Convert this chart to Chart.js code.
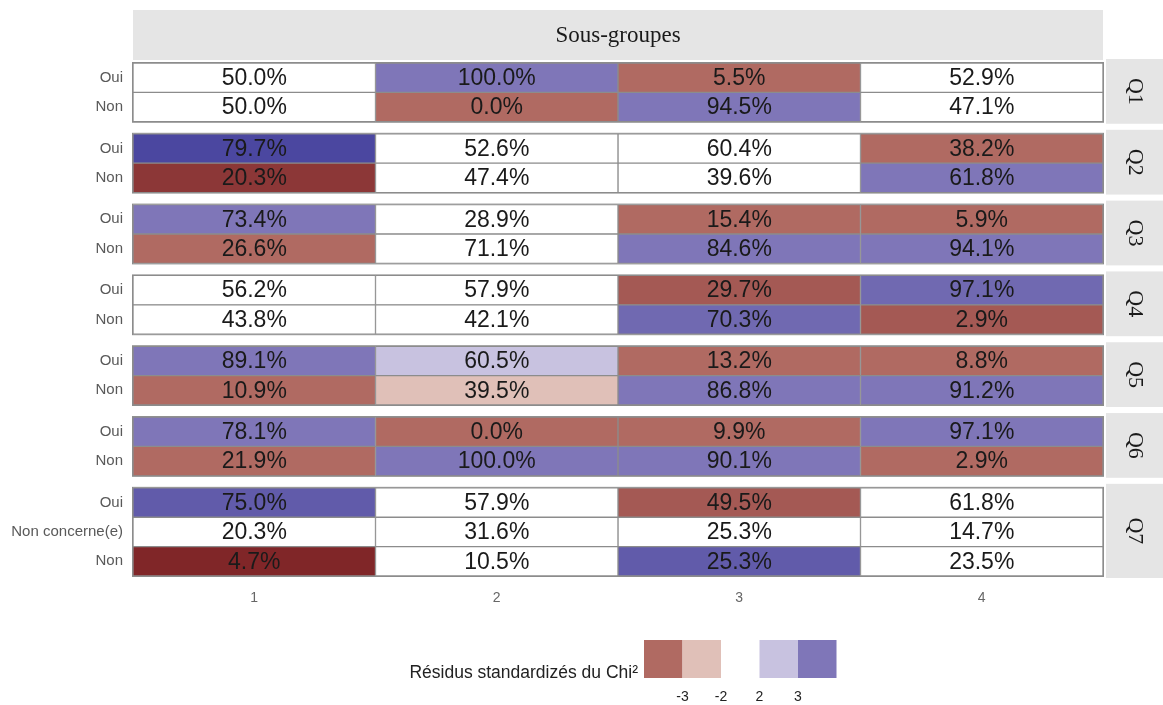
<!DOCTYPE html>
<html>
<head>
<meta charset="utf-8">
<script src="https://cdn.jsdelivr.net/npm/chart.js@4.4.1/dist/chart.umd.min.js"></script>
<style>
  html, body { margin: 0; padding: 0; background: #fff; }
  #wrap { width: 1163px; height: 705px; }
</style>
</head>
<body>
<div id="wrap"><canvas id="tableau" width="1163" height="705"></canvas></div>
<script>
// sous-groupes (colonnes)
const sousGroupes = ['1', '2', '3', '4'];

// questions et modalités (lignes)
const questions = ['Q1', 'Q2', 'Q3', 'Q4', 'Q5', 'Q6', 'Q7'];
const modalites = [
  ['Oui', 'Non'],
  ['Oui', 'Non'],
  ['Oui', 'Non'],
  ['Oui', 'Non'],
  ['Oui', 'Non'],
  ['Oui', 'Non'],
  ['Oui', 'Non concerne(e)', 'Non']
];

// pourcentages par sous-groupe, dans l'ordre Q1 Oui, Q1 Non, ... Q7 Non
const pct1 = [50.0, 50.0, 79.7, 20.3, 73.4, 26.6, 56.2, 43.8, 89.1, 10.9, 78.1, 21.9, 75.0, 20.3, 4.7];
const pct2 = [100.0, 0.0, 52.6, 47.4, 28.9, 71.1, 57.9, 42.1, 60.5, 39.5, 0.0, 100.0, 57.9, 31.6, 10.5];
const pct3 = [5.5, 94.5, 60.4, 39.6, 15.4, 84.6, 29.7, 70.3, 13.2, 86.8, 9.9, 90.1, 49.5, 25.3, 25.3];
const pct4 = [52.9, 47.1, 38.2, 61.8, 5.9, 94.1, 97.1, 2.9, 8.8, 91.2, 97.1, 2.9, 61.8, 14.7, 23.5];

// résidus standardisés du Chi² (estimés d'après les couleurs)
const res1 = [0, 0, 7, -6.5, 3.5, -3.5, 0, 0, 3.5, -3.5, 3.5, -3.5, 5.5, 0, -7.5];
const res2 = [3.5, -3.5, 0, 0, 0, 0, 0, 0, 2.5, -2.5, -3.5, 3.5, 0, 0, 0];
const res3 = [-3.5, 3.5, 0, 0, -3.5, 3.5, -4.5, 4.5, -3.5, 3.5, -3.5, 3.5, -4.5, 0, 5.5];
const res4 = [0, 0, -3.5, 3.5, -3.5, 3.5, 4.5, -4.5, -3.5, 3.5, 3.5, -3.5, 0, 0, 0];

// légende
const legendeTitre = 'Résidus standardizés du Chi²';
const legendeSeuils = ['-3', '-2', '2', '3'];

function couleurResidu(r) {
  const a = Math.abs(r);
  if (a < 2) return '#ffffff';
  if (a < 3) return r > 0 ? '#c8c2e0' : '#e0c0b8';
  const base = r > 0 ? [127, 118, 184] : [176, 106, 98];
  const fonce = r > 0 ? [75, 71, 160] : [128, 38, 40];
  const t = Math.min(1, Math.max(0, (a - 3.5) / (r > 0 ? 3.5 : 4)));
  const c = base.map((v, i) => Math.round(v + (fonce[i] - v) * t));
  return 'rgb(' + c.join(',') + ')';
}

// positions des lignes avec un petit écart entre les questions
const ECART = 0.41;
const lignes = [];
const panneaux = [];
let k = 0;
questions.forEach((q, qi) => {
  const debut = k + qi * ECART;
  modalites[qi].forEach(m => {
    lignes.push({ y: k + qi * ECART, label: m });
    k++;
  });
  panneaux.push({ q: q, debut: debut - 0.5, fin: lignes[lignes.length - 1].y + 0.5 });
});

const valeurs = [pct1, pct2, pct3, pct4];
const residus = [res1, res2, res3, res4];

const SANS = '"Liberation Sans", Arial, sans-serif';
const SERIF = '"Liberation Serif", "Times New Roman", serif';

// bandeaux gris (titre en haut, questions à droite)
const bandeaux = {
  id: 'bandeaux',
  beforeDraw(chart) {
    const { ctx, chartArea, scales } = chart;
    ctx.save();
    ctx.fillStyle = '#e5e5e5';
    ctx.fillRect(chartArea.left, 10, chartArea.right - chartArea.left, chartArea.top - 13);
    ctx.fillStyle = '#1a1a1a';
    ctx.font = '23px ' + SERIF;
    ctx.textAlign = 'center';
    ctx.textBaseline = 'middle';
    ctx.fillText('Sous-groupes', (chartArea.left + chartArea.right) / 2, 36);

    panneaux.forEach(p => {
      const haut = scales.y.getPixelForValue(p.debut) - 4;
      const bas = scales.y.getPixelForValue(p.fin) + 2;
      const x0 = chartArea.right + 3;
      ctx.fillStyle = '#e5e5e5';
      ctx.fillRect(x0, haut, chart.width - x0, bas - haut);
      ctx.save();
      ctx.translate((x0 + chart.width) / 2, (haut + bas) / 2);
      ctx.rotate(Math.PI / 2);
      ctx.fillStyle = '#1a1a1a';
      ctx.font = '22px ' + SERIF;
      ctx.fillText(p.q, 0, 0);
      ctx.restore();
    });
    ctx.restore();
  }
};

// contours des panneaux et pourcentages dans les cases
const etiquettes = {
  id: 'etiquettes',
  afterDatasetsDraw(chart) {
    const { ctx, chartArea, scales } = chart;
    ctx.save();
    ctx.strokeStyle = '#8c8c8c';
    ctx.lineWidth = 1;
    panneaux.forEach(p => {
      const haut = scales.y.getPixelForValue(p.debut);
      const bas = scales.y.getPixelForValue(p.fin);
      ctx.strokeRect(chartArea.left - 0.5, haut - 0.5, chartArea.right - chartArea.left + 1, bas - haut + 1);
    });

    ctx.fillStyle = '#1a1a1a';
    ctx.font = '23px ' + SANS;
    ctx.textAlign = 'center';
    ctx.textBaseline = 'middle';
    chart.data.datasets.forEach((ds, di) => {
      chart.getDatasetMeta(di).data.forEach((el, i) => {
        const c = el.getCenterPoint();
        ctx.fillText(ds.data[i].pct.toFixed(1) + '%', c.x, c.y + 1);
      });
    });
    ctx.restore();
  }
};

// légende des résidus en bas
const legende = {
  id: 'legende',
  afterDraw(chart) {
    const { ctx } = chart;
    const couleurs = [couleurResidu(-3), couleurResidu(-2.5), null, couleurResidu(2.5), couleurResidu(3)];
    const x0 = 644, w = 38.5, haut = 640, h = 38;
    ctx.save();
    couleurs.forEach((c, i) => {
      if (!c) return;
      ctx.fillStyle = c;
      ctx.fillRect(x0 + i * w, haut, w, h);
    });
    ctx.fillStyle = '#222';
    ctx.font = '17.5px ' + SANS;
    ctx.textAlign = 'right';
    ctx.textBaseline = 'middle';
    ctx.fillText(legendeTitre, 638, 673);

    ctx.font = '14px ' + SANS;
    ctx.textAlign = 'center';
    const xs = [x0 + w, x0 + 2 * w, x0 + 3 * w, x0 + 4 * w];
    legendeSeuils.forEach((s, i) => ctx.fillText(s, xs[i], 697));
    ctx.restore();
  }
};

new Chart(document.getElementById('tableau'), {
  type: 'bar',
  data: {
    datasets: sousGroupes.map((g, ci) => ({
      label: g,
      data: lignes.map((l, li) => ({ x: [ci + 0.5, ci + 1.5], y: l.y, pct: valeurs[ci][li] })),
      backgroundColor: residus[ci].map(couleurResidu),
      borderColor: '#8c8c8c',
      borderWidth: 1,
      borderSkipped: false,
      barPercentage: 1,
      categoryPercentage: 1,
      grouped: false
    }))
  },
  options: {
    indexAxis: 'y',
    responsive: false,
    animation: false,
    layout: { padding: { top: 63, right: 60, bottom: 89, left: 0 } },
    scales: {
      x: {
        type: 'linear',
        offset: false,
        min: 0.5,
        max: 4.5,
        afterBuildTicks: scale => { scale.ticks = sousGroupes.map((g, i) => ({ value: i + 1 })); },
        afterFit: scale => { scale.height = 40; scale.paddingLeft = 0; scale.paddingRight = 0; },
        ticks: {
          callback: (v, i) => sousGroupes[i],
          color: '#666',
          font: { family: SANS, size: 14 },
          padding: 14
        },
        grid: { display: false, drawTicks: false },
        border: { display: false }
      },
      y: {
        type: 'linear',
        offset: false,
        reverse: true,
        min: -0.5,
        max: lignes[lignes.length - 1].y + 0.5,
        afterBuildTicks: scale => { scale.ticks = lignes.map(l => ({ value: l.y })); },
        afterFit: scale => { scale.width = 133; scale.paddingTop = 0; scale.paddingBottom = 0; },
        ticks: {
          autoSkip: false,
          callback: (v, i) => lignes[i].label,
          color: '#595959',
          font: { family: SANS, size: 15 },
          padding: 10
        },
        grid: { display: false, drawTicks: false, offset: false },
        border: { display: false }
      }
    },
    plugins: {
      legend: { display: false },
      tooltip: { enabled: false }
    }
  },
  plugins: [bandeaux, etiquettes, legende]
});
</script>
</body>
</html>
